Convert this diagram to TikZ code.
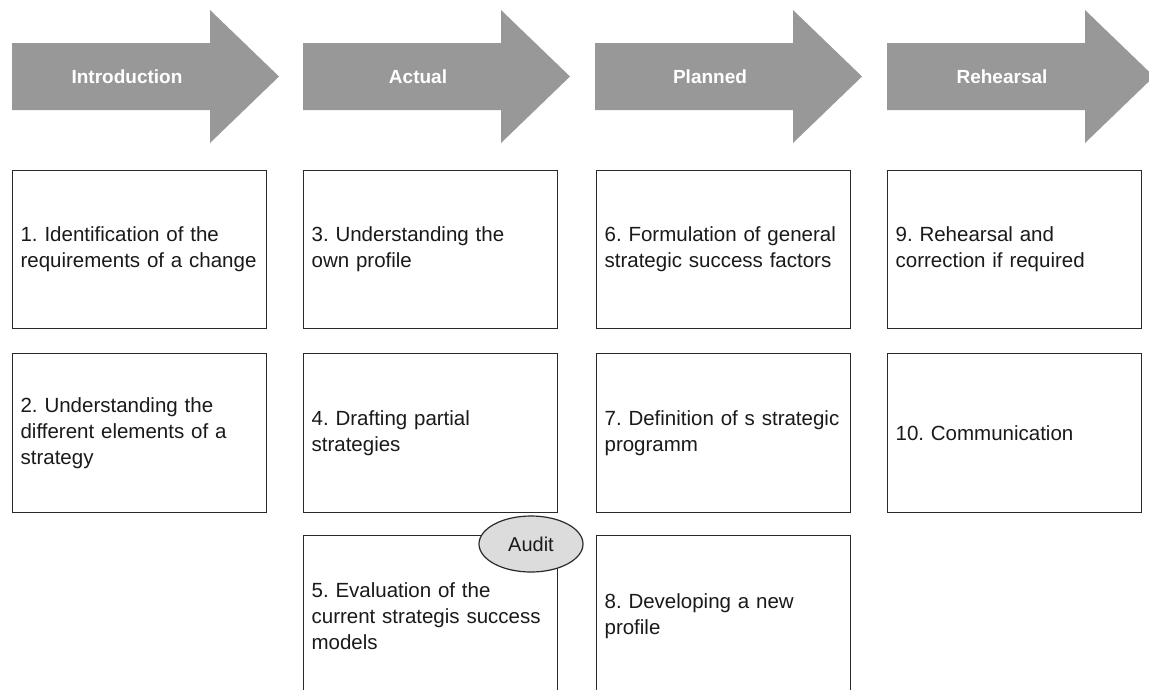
\documentclass[tikz,border=0pt]{standalone}
\usepackage{fontspec}
\setmainfont{Liberation Sans}
\usetikzlibrary{shapes.geometric}
\frenchspacing
\definecolor{arrowgray}{HTML}{989898}
\definecolor{linegray}{HTML}{2A2A2A}
\definecolor{auditfill}{HTML}{DCDCDC}
\definecolor{txt}{HTML}{1A1A1A}
\tikzset{
  phasearrow/.style={fill=arrowgray, draw=none},
  phaselabel/.style={text=white, font=\fontsize{19}{23}\selectfont\bfseries, inner sep=0pt},
  stepbox/.style={draw=linegray, line width=1.2pt, fill=white, rectangle, anchor=north west,
    minimum width=254pt, minimum height=158pt, inner xsep=8pt, inner ysep=0pt,
    text width=238pt, align=left, text=txt, font=\fontsize{20.5}{26}\selectfont\frenchspacing},
  auditnode/.style={draw=linegray, line width=1.2pt, fill=auditfill, ellipse,
    minimum width=104pt, minimum height=56pt, inner sep=0pt, text=txt,
    font=\fontsize{20}{24}\selectfont}
}
\begin{document}
\begin{tikzpicture}[x=1pt,y=-1pt]
\clip (0,0) rectangle (1149,689);
\fill[white] (0,0) rectangle (1149,689);
% phase arrows
\foreach \x/\name/\lab in {12/introduction/Introduction,303/actual/Actual,595/planned/Planned,887/rehearsal/Rehearsal}{
  \fill[phasearrow] (\x,43) -- (\x+198,43) -- (\x+198,10) -- (\x+267,76.5) -- (\x+198,143) -- (\x+198,110) -- (\x,110) -- cycle;
  \node[phaselabel] (\name) at (\x+115,77) {\lab};
}
% row 1
\node[stepbox] (s1) at (12,170) {1. Identification of the\\requirements of a change};
\node[stepbox] (s3) at (303,170) {3. Understanding the\\own profile};
\node[stepbox] (s6) at (596,170) {6. Formulation of general\\strategic success factors};
\node[stepbox] (s9) at (887,170) {9. Rehearsal and\\correction if required};
% row 2
\node[stepbox, minimum height=159pt] (s2) at (12,353) {2. Understanding the\\different elements of a\\strategy};
\node[stepbox, minimum height=159pt] (s4) at (303,353) {4. Drafting partial\\strategies};
\node[stepbox, minimum height=159pt] (s7) at (596,353) {7. Definition of s strategic\\programm};
\node[stepbox, minimum height=159pt] (s10) at (887,353) {10. Communication};
% row 3
\node[stepbox, minimum height=162pt] (s5) at (303,535) {5. Evaluation of the\\current strategis success\\models};
\node[stepbox, minimum height=162pt] (s8) at (596,535) {8. Developing a new\\profile};
% audit
\node[auditnode] (audit) at (531,544) {Audit};
\end{tikzpicture}
\end{document}
